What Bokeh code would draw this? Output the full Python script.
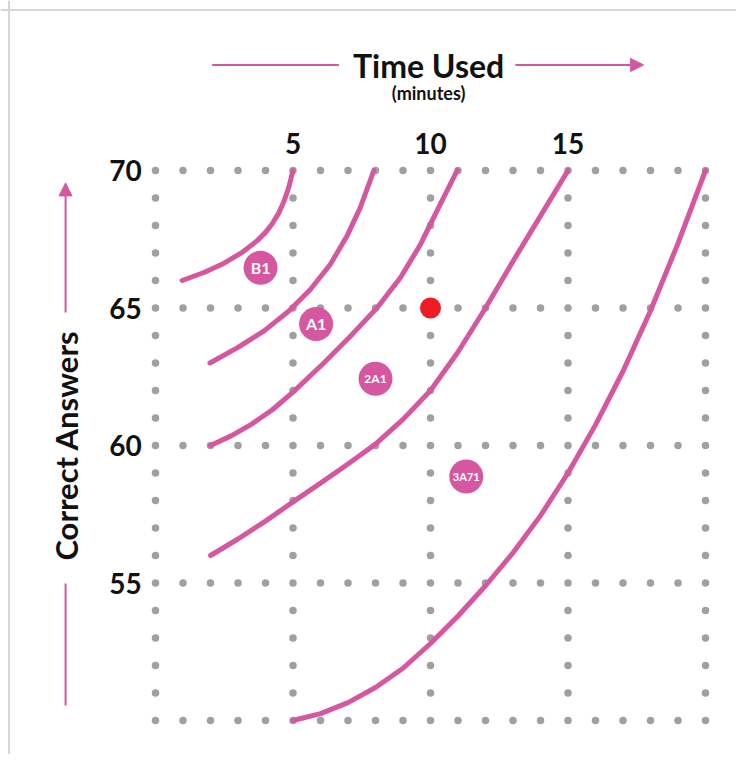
import numpy as np
from bokeh.plotting import figure
from bokeh.models import Range1d, Label, Arrow, NormalHead, ColumnDataSource, Span
from bokeh.core.properties import value
from bokeh.embed import file_html
from bokeh.resources import INLINE

PINK = "#d5579f"
GRAY = "#a0a0a0"
RED = "#ee1c25"
INK = "#111111"
FONT = "Lato"

# ---- data ----
time_ticks = [5, 10, 15]
answer_ticks = [55, 60, 65, 70]
grid_time_lines = [0, 5, 10, 15, 20]
grid_answer_lines = [50, 55, 60, 65, 70]
time_steps = list(range(0, 21))
answer_steps = list(range(50, 71))

curve1_time = [0.97, 1.76, 2.48, 3.15, 3.70, 4.0, 4.25, 4.48, 4.68, 4.85, 5.0]
curve1_correct = [66.0, 66.29, 66.62, 67.02, 67.45, 67.75, 68.07, 68.45, 68.9, 69.4, 70.0]

curve2_time = [1.98, 2.97, 3.94, 4.85, 5.64, 6.36, 6.97, 7.45, 7.94]
curve2_correct = [63.0, 63.55, 64.16, 64.89, 65.68, 66.59, 67.63, 68.66, 70.0]

curve3_time = [2.0, 2.75, 3.5, 4.25, 5.03, 6.12, 7.15, 8.06, 8.91, 9.64, 10.18, 10.97]
curve3_correct = [60.0, 60.35, 60.78, 61.3, 61.97, 63.0, 64.04, 65.01, 66.11, 67.32, 68.42, 70.0]

curve4_time = [2.0, 3.0, 4.0, 5.0, 6.0, 7.0, 8.0, 9.0, 10.0, 11.0, 12.0, 13.0, 14.0, 15.0]
curve4_correct = [56.0, 56.6, 57.25, 57.95, 58.63, 59.33, 60.05, 60.95, 62.0, 63.4, 65.0,
                  66.7, 68.35, 70.0]

curve5_time = [5.0, 6.0, 7.0, 8.0, 9.0, 10.0, 11.0, 12.0, 13.0, 14.0, 15.0, 16.0, 17.0,
               18.0, 19.0, 20.0]
curve5_correct = [50.0, 50.25, 50.65, 51.2, 51.9, 52.8, 53.8, 54.9, 56.1, 57.45, 59.0,
                  60.75, 62.7, 64.9, 67.35, 70.0]

badge_names = ["B1", "A1", "2A1", "3A71"]
badge_time = [3.82, 5.84, 8.0, 11.3]
badge_correct = [66.46, 64.42, 62.43, 58.87]
badge_font = ["16px", "16px", "12px", "11px"]

you_time = [10]
you_correct = [65]

# ---- figure: the frame is the whole canvas ----
U = 27.5  # pixels per unit on both axes
X0, X1 = -155 / U, (736 - 155) / U
Y0, Y1 = 70 - (754 - 170) / U, 70 + 170 / U
p = figure(width=736, height=754,
           x_range=Range1d(X0, X1), y_range=Range1d(Y0, Y1),
           x_axis_type=None, y_axis_type=None,
           output_backend="svg", toolbar_location=None,
           min_border=0)
p.outline_line_color = None
p.grid.visible = False
p.background_fill_color = "white"
p.border_fill_color = "white"

# light page border (left and top)
p.add_layout(Span(location=X0 + 8.5 / U, dimension="height", line_color="#d6d6d6", line_width=2))
p.add_layout(Span(location=Y1 - 9.5 / U, dimension="width", line_color="#d6d6d6", line_width=2))

# dotted grid
gx, gy = [], []
seen = set()
for x in grid_time_lines:
    for y in answer_steps:
        if (x, y) not in seen:
            seen.add((x, y)); gx.append(x); gy.append(y)
for y in grid_answer_lines:
    for x in time_steps:
        if (x, y) not in seen:
            seen.add((x, y)); gx.append(x); gy.append(y)
p.scatter(gx, gy, size=7.5, color=GRAY, line_color=None)

# tick labels
p.text(x=time_ticks, y=[71.0] * len(time_ticks), text=[str(t) for t in time_ticks],
       text_font=value(FONT), text_font_style="bold", text_font_size="28px",
       text_color=INK, text_align="center", text_baseline="middle")
p.text(x=[-0.5] * len(answer_ticks), y=answer_ticks, text=[str(t) for t in answer_ticks],
       text_font=value(FONT), text_font_style="bold", text_font_size="28px",
       text_color=INK, text_align="right", text_baseline="middle")

# curves
for cx, cy in ((curve1_time, curve1_correct), (curve2_time, curve2_correct),
               (curve3_time, curve3_correct), (curve4_time, curve4_correct),
               (curve5_time, curve5_correct)):
    p.line(cx, cy, line_color=PINK, line_width=5, line_cap="round", line_join="round")

# badges
src = ColumnDataSource(dict(x=badge_time, y=badge_correct, t=badge_names, fs=badge_font))
p.scatter("x", "y", source=src, size=34, fill_color=PINK, line_color=None)
p.text("x", "y", text="t", source=src, text_color="white", text_font=value(FONT),
       text_font_style="bold", text_font_size="fs", text_align="center", text_baseline="middle")

# red point
p.scatter(you_time, you_correct, size=21, fill_color=RED, line_color=None)

# titles and arrows
p.add_layout(Label(x=9.93, y=73.82, text="Time Used", text_font=FONT, text_font_style="bold",
                   text_font_size="32px", text_align="center", text_baseline="middle",
                   text_color=INK))
p.add_layout(Label(x=9.93, y=72.82, text="(minutes)", text_font=FONT, text_font_style="bold",
                   text_font_size="18px", text_align="center", text_baseline="middle",
                   text_color=INK))
p.add_layout(Arrow(x_start=2.06, y_start=73.84, x_end=6.67, y_end=73.84, end=None,
                   line_color=PINK, line_width=2))
p.add_layout(Arrow(x_start=13.09, y_start=73.84, x_end=17.75, y_end=73.84,
                   end=NormalHead(size=13, fill_color=PINK, line_color=PINK),
                   line_color=PINK, line_width=2))

p.add_layout(Label(x=-3.27, y=60.0, text="Correct Answers", angle=np.pi / 2,
                   text_font=FONT, text_font_style="bold", text_font_size="31px",
                   text_align="center", text_baseline="middle", text_color=INK))
p.add_layout(Arrow(x_start=-3.27, y_start=64.84, x_end=-3.27, y_end=69.55,
                   end=NormalHead(size=13, fill_color=PINK, line_color=PINK),
                   line_color=PINK, line_width=2))
p.add_layout(Arrow(x_start=-3.27, y_start=50.55, x_end=-3.27, y_end=54.98, end=None,
                   line_color=PINK, line_width=2))

open("out.html", "w").write(file_html(p, INLINE))
